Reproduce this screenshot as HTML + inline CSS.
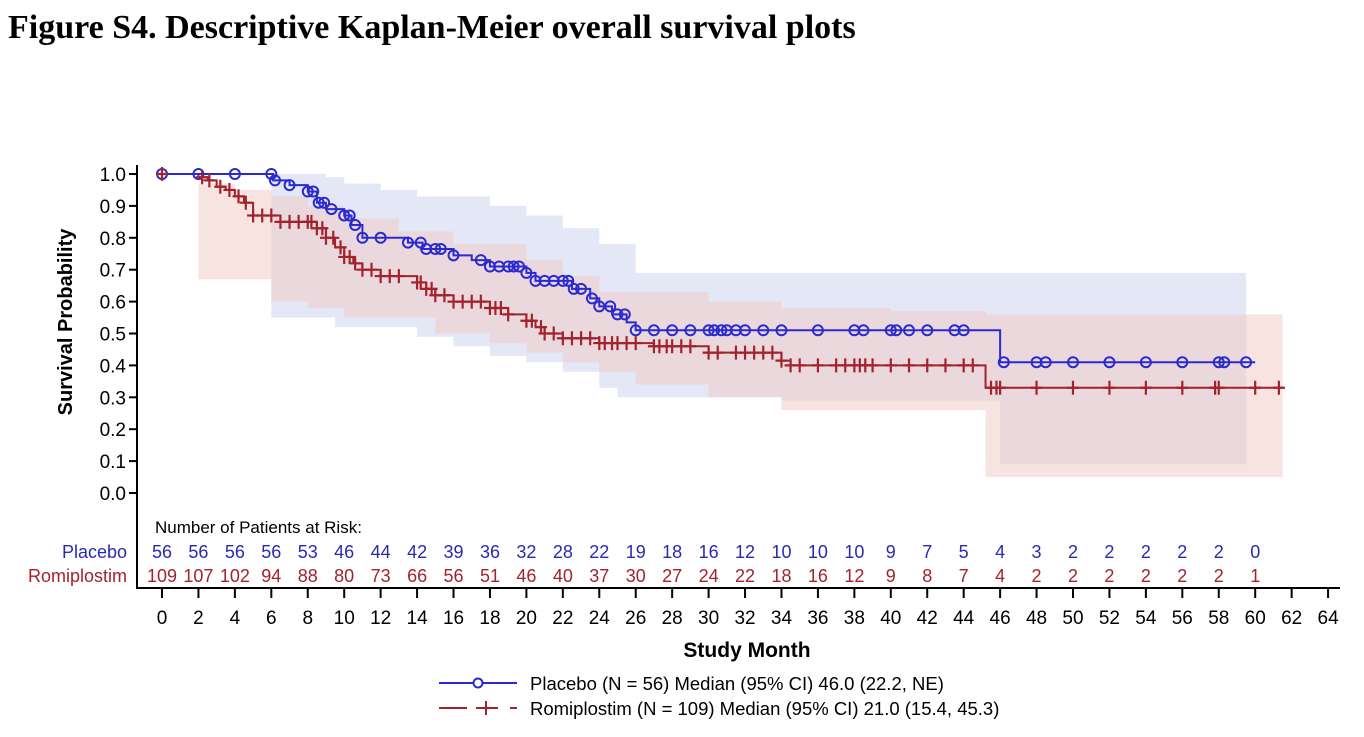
<!DOCTYPE html>
<html><head><meta charset="utf-8"><style>
body{margin:0;background:#fff;width:1364px;height:732px;overflow:hidden}
svg{font-family:"Liberation Sans",Arial,sans-serif}
</style></head><body>
<svg id="s" width="1364" height="732" xmlns="http://www.w3.org/2000/svg">
<text x="8" y="38" font-family="Liberation Serif" font-weight="bold" font-size="34">Figure S4. Descriptive Kaplan-Meier overall survival plots</text>
<g id="g"></g>
</svg>
<script>
const X=m=>162+m*18.22, Y=s=>493-s*319;
let h='';
function step(pts,end){let d='M'+X(pts[0][0])+' '+Y(pts[0][1]);for(let i=1;i<pts.length;i++){d+=' H'+X(pts[i][0])+' V'+Y(pts[i][1]);}d+=' H'+X(end);return d;}
function band(up,lo,x0,x1,c,op){let d='M'+X(x0)+' '+Y(up[0][1]);for(let i=1;i<up.length;i++)d+=' H'+X(up[i][0])+' V'+Y(up[i][1]);d+=' H'+X(x1)+' V'+Y(lo[lo.length-1][1]);for(let i=lo.length-1;i>0;i--)d+=' H'+X(lo[i][0])+' V'+Y(lo[i-1][1]);d+=' H'+X(x0)+'Z';h+=`<path d="${d}" fill="${c}" fill-opacity="${op}"/>`;}
band([[6,1],[9,0.99],[10,0.97],[12,0.95],[14,0.93],[18,0.9],[20,0.87],[22,0.83],[24,0.78],[26,0.69]],
     [[6,0.55],[9.5,0.52],[14,0.49],[16,0.46],[18,0.43],[20,0.41],[22,0.38],[24,0.33],[25,0.3],[34,0.29],[46,0.09]],6,59.5,'#c9d0ee',0.5);
band([[2,0.97],[4,0.95],[6,0.93],[8,0.9],[10,0.86],[13,0.82],[16,0.78],[20,0.73],[22,0.68],[24,0.63],[30,0.6],[34,0.58],[40,0.57],[45.2,0.56]],
     [[2,0.67],[6,0.6],[8,0.58],[10,0.55],[15,0.5],[18,0.47],[20,0.44],[22,0.41],[24,0.38],[26,0.34],[30,0.3],[34,0.26],[45.2,0.05]],2,61.5,'#efc9c2',0.5);
const P=[[0,1],[6.1,0.98],[7,0.965],[8,0.945],[8.5,0.91],[9,0.89],[10,0.87],[10.4,0.84],[11,0.8],[13.5,0.785],[14.3,0.765],[16,0.745],[17,0.73],[18,0.71],[20,0.69],[20.5,0.665],[22.5,0.64],[23.5,0.61],[24,0.585],[24.7,0.56],[25.5,0.535],[26,0.51],[46,0.41]];
const R=[[0,1],[2,0.99],[2.5,0.98],[3,0.96],[3.5,0.95],[4,0.93],[4.5,0.91],[5,0.87],[6.5,0.85],[8.5,0.83],[9,0.8],[9.5,0.77],[10,0.74],[10.5,0.72],[11,0.7],[12,0.68],[14,0.66],[14.5,0.64],[15,0.62],[16,0.6],[18,0.58],[19,0.56],[20,0.54],[20.5,0.52],[21,0.5],[22,0.485],[24,0.47],[27,0.46],[30,0.44],[34,0.415],[34.5,0.4],[45.2,0.33]];
h+=`<path d="${step(R,61.5)}" fill="none" stroke="#a3232d" stroke-width="2"/>`;
h+=`<path d="${step(P,60)}" fill="none" stroke="#2a2ad0" stroke-width="2"/>`;
function sv(pts,m){let s=1;for(const p of pts)if(p[0]<=m)s=p[1];return s;}
const pc=[0,2,4,6,6.2,7,8,8.3,8.6,8.9,9.3,10,10.3,10.6,11,12,13.5,14.2,14.5,15,15.3,16,17.5,18,18.5,19,19.3,19.6,20,20.5,21,21.5,22,22.3,22.6,23,23.6,24,24.6,25,25.4,26,27,28,29,30,30.3,30.7,31,31.5,32,33,34,36,38,38.5,40,40.3,41,42,43.5,44,46.2,48,48.5,50,52,54,56,58,58.3,59.5];
for(const m of pc)h+=`<circle cx="${X(m)}" cy="${Y(sv(P,m+0.001))}" r="5" fill="none" stroke="#2a2ad0" stroke-width="2"/>`;
const rc=[0,2.2,2.6,3.2,3.7,4.2,4.6,5,5.5,6,6.5,7,7.5,8,8.2,8.5,8.8,9,9.4,9.8,10,10.3,10.6,11,11.5,12,12.5,13,14,14.2,14.5,14.8,15,15.5,16,16.5,17,17.5,18,18.3,18.6,19,20,20.3,20.8,21,21.5,22,22.5,23,23.5,24,24.3,24.7,25,25.5,26,27,27.3,27.7,28,28.5,29,30,30.5,31.5,32,32.5,33,33.5,34,34.5,35,36,37,37.5,38,38.3,38.6,39,40,41,42,43,44,44.5,45.5,45.8,46,48,50,52,54,56,57.8,58,60,61.3];
for(const m of rc){const x=X(m),y=Y(sv(R,m+0.001));h+=`<path d="M${x-6} ${y}H${x+6}M${x} ${y-7}V${y+7}" stroke="#a3232d" stroke-width="2.2"/>`;}
h+=`<path d="M137 165V588H1340" fill="none" stroke="#000" stroke-width="2"/>`;
for(let i=0;i<=10;i++){const y=Y(i/10);h+=`<line x1="129" y1="${y}" x2="137" y2="${y}" stroke="#000" stroke-width="2"/><text x="126" y="${y+7}" font-size="19" text-anchor="end">${(i/10).toFixed(1)}</text>`;}
for(let m=0;m<=64;m+=2){const x=X(m);h+=`<line x1="${x}" y1="588" x2="${x}" y2="598" stroke="#000" stroke-width="2"/><text x="${x}" y="624" font-size="19" text-anchor="middle">${m}</text>`;}
h+=`<text x="72" y="322" font-size="20" font-weight="bold" text-anchor="middle" transform="rotate(-90 72 322)">Survival Probability</text>`;
h+=`<text x="747" y="657" font-size="21" font-weight="bold" text-anchor="middle">Study Month</text>`;
h+=`<text x="155" y="533" font-size="17">Number of Patients at Risk:</text>`;
h+=`<text x="127" y="558" font-size="18" fill="#2a2ab0" text-anchor="end">Placebo</text><text x="127" y="582" font-size="18" fill="#a3232d" text-anchor="end">Romiplostim</text>`;
const pn=[56,56,56,56,53,46,44,42,39,36,32,28,22,19,18,16,12,10,10,10,9,7,5,4,3,2,2,2,2,2,0];
const rn=[109,107,102,94,88,80,73,66,56,51,46,40,37,30,27,24,22,18,16,12,9,8,7,4,2,2,2,2,2,2,1];
pn.forEach((v,i)=>h+=`<text x="${X(i*2)}" y="558" font-size="18" fill="#2a2ab0" text-anchor="middle">${v}</text>`);
rn.forEach((v,i)=>h+=`<text x="${X(i*2)}" y="582" font-size="18" fill="#a3232d" text-anchor="middle">${v}</text>`);
h+=`<line x1="439" y1="683" x2="517" y2="683" stroke="#2a2ad0" stroke-width="2"/><circle cx="478" cy="683" r="4.5" fill="#fff" stroke="#2a2ad0" stroke-width="2"/>`;
h+=`<text x="530" y="690" font-size="18.5">Placebo (N = 56) Median (95% CI) 46.0 (22.2, NE)</text>`;
h+=`<path d="M439 708H467M476 708H498M510 708H517M486 701V715" stroke="#a3232d" stroke-width="2"/>`;
h+=`<text x="530" y="715" font-size="18.5">Romiplostim (N = 109) Median (95% CI) 21.0 (15.4, 45.3)</text>`;
document.getElementById('g').innerHTML=h;
</script>
</body></html>
